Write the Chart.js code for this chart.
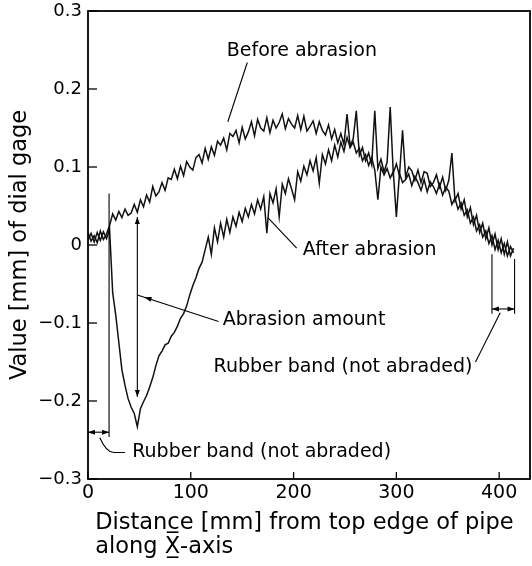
<!DOCTYPE html>
<html>
<head>
<meta charset="utf-8">
<script src="https://cdn.jsdelivr.net/npm/chart.js@4"></script>
<style>
  html, body { margin: 0; padding: 0; background: #fff; }
</style>
</head>
<body>
<canvas id="dial-chart" width="532" height="566"></canvas>
<script>
// Distance [mm] along the pipe
const distance = [
  0, 3, 6, 9, 12, 15, 18, 21, 24, 27,
  30, 33, 36, 39, 42, 45, 48, 51, 54, 57,
  60, 63, 66, 69, 72, 75, 78, 81, 84, 87,
  90, 93, 96, 99, 102, 105, 108, 111, 114, 117,
  120, 123, 126, 129, 132, 135, 138, 141, 144, 147,
  150, 153, 156, 159, 162, 165, 168, 171, 174, 177,
  180, 183, 186, 189, 192, 195, 198, 201, 204, 207,
  210, 213, 216, 219, 222, 225, 228, 231, 234, 237,
  240, 243, 246, 249, 252, 255, 258, 261, 264, 267,
  270, 273, 276, 279, 282, 285, 288, 291, 294, 297,
  300, 303, 306, 309, 312, 315, 318, 321, 324, 327,
  330, 333, 336, 339, 342, 345, 348, 351, 354, 357,
  360, 363, 366, 369, 372, 375, 378, 381, 384, 387,
  390, 393, 396, 399, 402, 405, 408, 411, 414
];

// Dial gage reading [mm] before abrasion
const beforeAbrasion = [
  0.016, 0.005, 0.012, 0.003, 0.018, 0.007, 0.014, 0.025, 0.040, 0.032,
  0.043, 0.035, 0.046, 0.038, 0.041, 0.052, 0.042, 0.058, 0.049, 0.064,
  0.055, 0.075, 0.063, 0.068, 0.080, 0.070, 0.086, 0.084, 0.097, 0.085,
  0.101, 0.089, 0.107, 0.100, 0.096, 0.112, 0.116, 0.105, 0.124, 0.110,
  0.126, 0.115, 0.133, 0.128, 0.137, 0.122, 0.143, 0.139, 0.147, 0.131,
  0.151, 0.136, 0.145, 0.158, 0.140, 0.161, 0.150, 0.146, 0.163, 0.144,
  0.160, 0.150, 0.157, 0.168, 0.149, 0.162, 0.155, 0.150, 0.166, 0.148,
  0.165, 0.146, 0.152, 0.159, 0.143, 0.158, 0.147, 0.141, 0.154, 0.136,
  0.148, 0.131, 0.143, 0.129, 0.168, 0.127, 0.136, 0.172, 0.115, 0.125,
  0.108, 0.118, 0.103, 0.172, 0.098, 0.110, 0.094, 0.106, 0.177, 0.092,
  0.104, 0.089, 0.147, 0.087, 0.100, 0.095, 0.083, 0.096, 0.080, 0.094,
  0.092, 0.075, 0.080, 0.090, 0.074, 0.087, 0.070, 0.083, 0.118, 0.057,
  0.066, 0.046, 0.058, 0.036, 0.048, 0.026, 0.038, 0.016, 0.028, 0.008,
  0.022, 0.000, 0.014, -0.006, 0.008, -0.012, 0.004, -0.014, -0.004
];

// Dial gage reading [mm] after abrasion
const afterAbrasion = [
  0.006, 0.015, 0.004, 0.016, 0.006, 0.017, 0.008, 0.020, -0.061, -0.090,
  -0.125, -0.160, -0.180, -0.197, -0.208, -0.216, -0.233, -0.210, -0.201, -0.193,
  -0.182, -0.170, -0.155, -0.142, -0.136, -0.128, -0.126, -0.117, -0.112, -0.104,
  -0.094, -0.088, -0.078, -0.064, -0.052, -0.042, -0.030, -0.022, -0.006, 0.010,
  -0.012, 0.022, 0.004, 0.028, 0.010, 0.033, 0.016, 0.036, 0.024, 0.042,
  0.030, 0.047, 0.036, 0.052, 0.040, 0.058, 0.046, 0.062, 0.015, 0.066,
  0.054, 0.072, 0.036, 0.078, 0.066, 0.085, 0.072, 0.058, 0.094, 0.082,
  0.101, 0.090, 0.108, 0.095, 0.112, 0.079, 0.116, 0.104, 0.122, 0.108,
  0.128, 0.113, 0.132, 0.120, 0.138, 0.125, 0.132, 0.118, 0.124, 0.108,
  0.116, 0.102, 0.112, 0.096, 0.058, 0.100, 0.090, 0.098, 0.086, 0.094,
  0.036, 0.092, 0.080, 0.084, 0.091, 0.076, 0.088, 0.080, 0.070, 0.084,
  0.068, 0.081, 0.075, 0.066, 0.078, 0.064, 0.074, 0.069, 0.052, 0.060,
  0.046, 0.054, 0.038, 0.045, 0.028, 0.036, 0.018, 0.026, 0.010, 0.018,
  0.002, 0.012, -0.006, 0.006, -0.010, 0.002, -0.014, -0.002, -0.010
];

const xTicks = [0, 100, 200, 300, 400];
const yTicks = [-0.3, -0.2, -0.1, 0, 0.1, 0.2, 0.3];

const FONT = 'DejaVu Sans';

function toPoints(values) {
  return distance.map((d, i) => ({ x: d, y: values[i] }));
}

function arrowHead(ctx, x, y, angle) {
  const len = 7, half = 2.5;
  ctx.save();
  ctx.translate(x, y);
  ctx.rotate(angle);
  ctx.beginPath();
  ctx.moveTo(0, 0);
  ctx.lineTo(-len, -half);
  ctx.lineTo(-len, half);
  ctx.closePath();
  ctx.fill();
  ctx.restore();
}

// frame, inward tick marks and the hand drawn notes of the figure
const dialNotes = {
  id: 'dialNotes',
  afterDatasetsDraw(chart) {
    const { ctx, chartArea: a, scales: { x, y } } = chart;
    const px = v => x.getPixelForValue(v);
    const py = v => y.getPixelForValue(v);
    const line = (x1, y1, x2, y2) => {
      ctx.beginPath();
      ctx.moveTo(px(x1), py(y1));
      ctx.lineTo(px(x2), py(y2));
      ctx.stroke();
    };

    ctx.save();
    ctx.strokeStyle = '#000';
    ctx.fillStyle = '#000';

    // frame
    ctx.lineWidth = 1.8;
    ctx.strokeRect(a.left, a.top, a.right - a.left, a.bottom - a.top);

    // tick marks pointing inward
    ctx.lineWidth = 1.3;
    yTicks.forEach(v => {
      ctx.beginPath();
      ctx.moveTo(a.left, py(v));
      ctx.lineTo(a.left + 9, py(v));
      ctx.stroke();
    });
    xTicks.forEach(v => {
      ctx.beginPath();
      ctx.moveTo(px(v), a.bottom);
      ctx.lineTo(px(v), a.bottom - 7);
      ctx.stroke();
    });

    ctx.lineWidth = 1.1;

    // Before abrasion leader
    line(155, 0.234, 136, 0.158);

    // After abrasion leader
    line(203, -0.004, 175, 0.035);

    // Abrasion amount: double arrow between the two curves
    line(48, 0.036, 48, -0.195);
    arrowHead(ctx, px(48), py(0.036), -Math.PI / 2);
    arrowHead(ctx, px(48), py(-0.195), Math.PI / 2);
    line(48, -0.064, 127, -0.098);
    const ang = Math.atan2(py(-0.064) - py(-0.067), px(48) - px(55));
    arrowHead(ctx, px(55), py(-0.067), ang);

    // Rubber band at the left end
    line(20.5, 0.066, 20.5, -0.246);
    line(0, -0.24, 20.5, -0.24);
    arrowHead(ctx, px(0), py(-0.24), Math.PI);
    arrowHead(ctx, px(20.5), py(-0.24), 0);
    ctx.beginPath();
    ctx.moveTo(px(11.5), py(-0.247));
    ctx.quadraticCurveTo(px(18), py(-0.266), px(25), py(-0.266));
    ctx.lineTo(px(36), py(-0.266));
    ctx.stroke();

    // Rubber band at the right end
    line(393, -0.012, 393, -0.088);
    line(415, -0.018, 415, -0.088);
    line(393, -0.082, 415, -0.082);
    arrowHead(ctx, px(393), py(-0.082), Math.PI);
    arrowHead(ctx, px(415), py(-0.082), 0);
    line(401, -0.087, 377, -0.150);

    // texts
    ctx.font = '19px "' + FONT + '"';
    ctx.textBaseline = 'middle';
    ctx.textAlign = 'left';
    ctx.fillText('Before abrasion', px(135), py(0.249));
    ctx.fillText('After abrasion', px(209), py(-0.006));
    ctx.fillText('Abrasion amount', px(131), py(-0.096));
    ctx.fillText('Rubber band (not abraded)', px(43), py(-0.265));
    ctx.textAlign = 'right';
    ctx.fillText('Rubber band (not abraded)', px(374), py(-0.156));

    ctx.restore();
  }
};

const ctx = document.getElementById('dial-chart').getContext('2d');
const dialChart = new Chart(ctx, {
  type: 'line',
  data: {
    datasets: [
      {
        label: 'Before abrasion',
        data: toPoints(beforeAbrasion),
        borderColor: '#111',
        borderWidth: 1.5,
        pointRadius: 0,
        tension: 0
      },
      {
        label: 'After abrasion',
        data: toPoints(afterAbrasion),
        borderColor: '#111',
        borderWidth: 1.5,
        pointRadius: 0,
        tension: 0
      }
    ]
  },
  options: {
    responsive: false,
    animation: false,
    layout: { padding: { top: 11, right: 2, bottom: 7, left: 0 } },
    plugins: {
      legend: { display: false },
      tooltip: { enabled: false }
    },
    scales: {
      x: {
        type: 'linear',
        min: 0,
        max: 430,
        afterBuildTicks: s => { s.ticks = xTicks.map(v => ({ value: v })); },
        afterFit: s => { s.height = 80; s.paddingLeft = 0; s.paddingRight = 0; },
        grid: { display: false, drawTicks: false },
        border: { display: false },
        ticks: {
          color: '#000',
          padding: 3,
          maxRotation: 0,
          font: { family: FONT, size: 19 }
        },
        title: {
          display: true,
          align: 'start',
          text: [' Distance [mm] from top edge of pipe', ' along X\u0332\u0305-axis'],
          color: '#000',
          font: { family: FONT, size: 22.5, lineHeight: 1.07 },
          padding: { top: 0, bottom: 0 }
        }
      },
      y: {
        type: 'linear',
        min: -0.3,
        max: 0.3,
        afterBuildTicks: s => { s.ticks = yTicks.map(v => ({ value: v })); },
        afterFit: s => { s.width = 88; s.paddingTop = 0; s.paddingBottom = 0; },
        grid: { display: false, drawTicks: false },
        border: { display: false },
        ticks: {
          color: '#000',
          padding: 6,
          font: { family: FONT, size: 18 },
          callback: v => v === 0 ? '0' : (v < 0 ? '\u2212' : '') + Math.abs(v).toFixed(1)
        },
        title: {
          display: true,
          text: 'Value [mm] of dial gage',
          color: '#000',
          font: { family: FONT, size: 22.5, lineHeight: 1.2 },
          padding: { top: 7, bottom: 0 }
        }
      }
    }
  },
  plugins: [dialNotes]
});
</script>
</body>
</html>
